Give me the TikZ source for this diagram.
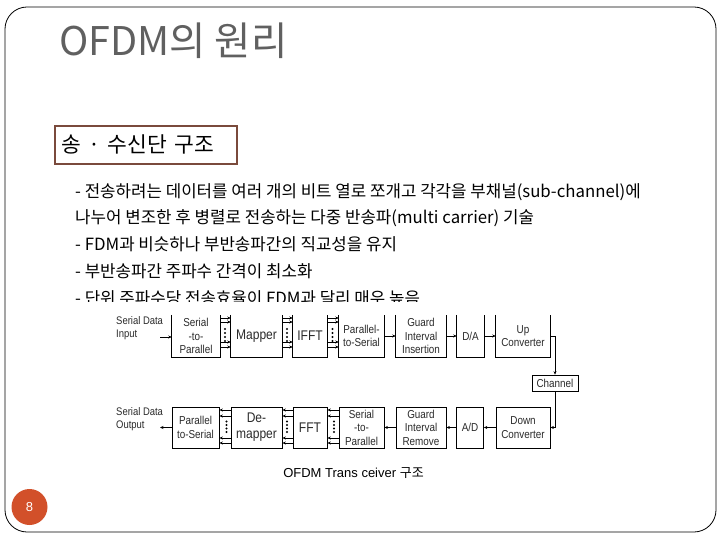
\documentclass[tikz,border=0pt]{standalone}
\usepackage{fontspec}
\setmainfont{Noto Sans CJK KR}
\newfontfamily\arialf[FakeStretch=0.86]{Liberation Sans}
\newfontfamily\capf{Liberation Sans}
\usetikzlibrary{arrows.meta,calc}
\definecolor{titlegray}{HTML}{606060}
\definecolor{secbrown}{HTML}{7A4A3C}
\definecolor{pgcol}{HTML}{D2502A}
\definecolor{boxtext}{HTML}{2A2A2A}
\tikzset{
  arr/.style={-{Stealth[length=3.5pt,width=3pt]}, line width=0.6pt},
  blk/.style={draw, line width=0.7pt, inner sep=0pt, align=center, text=boxtext,
              font=\arialf\fontsize{11.5}{13.5}\selectfont},
  blkopen/.style={inner sep=0pt, align=center, text=boxtext,
              font=\arialf\fontsize{11.5}{13.5}\selectfont},
  big/.style={font=\arialf\fontsize{14}{16}\selectfont},
  bullet/.style={anchor=base west, inner sep=0pt, font=\fontsize{16.8}{18}\selectfont},
  pdot/.style={fill=black},
}
\newcommand\openbox[1]{\draw[line width=0.7pt] (#1.north west) -- (#1.south west) -- (#1.south east) -- (#1.north east);}
\begin{document}
\begin{tikzpicture}[x=1pt,y=-1pt]
\useasboundingbox (0,0) rectangle (720,540);
% slide frame
\draw[rounded corners=22pt, line width=0.8pt] (5,7) rectangle (716,532);
% title
\node[anchor=base west, inner sep=0pt, text=titlegray, font=\fontsize{39.5}{41}\selectfont] (title) at (59,56) {OFDM의 원리};
% section box
\node[draw=secbrown, line width=1.6pt, anchor=north west, minimum width=182pt, minimum height=38pt,
      text width=168pt, inner xsep=7pt, align=left, font=\fontsize{21.5}{23}\selectfont] (sec) at (54,125) {송 · 수신단 구조};
% bullets
\node[bullet] (b1) at (75,197.5) {- 전송하려는 데이터를 여러 개의 비트 열로 쪼개고 각각을 부채널(sub-channel)에};
\node[bullet] (b2) at (75,224) {나누어 변조한 후 병렬로 전송하는 다중 반송파(multi carrier) 기술};
\node[bullet] (b3) at (75,250.7) {- FDM과 비슷하나 부반송파간의 직교성을 유지};
\node[bullet] (b4) at (75,277.4) {- 부반송파간 주파수 간격이 최소화};
\begin{scope}
\clip (0,0) rectangle (720,301);
\node[bullet] (b5) at (75,304) {- 단위 주파수당 전송효율이 FDM과 달리 매우 높음};
\end{scope}
% ---- top row (transmitter)
\node[blkopen, minimum width=48pt, minimum height=42pt] (sp1) at (196,336) {Serial\\-to-\\Parallel};
\node[blkopen, big, minimum width=51pt, minimum height=42pt] (map) at (256.5,336) {Mapper};
\node[blkopen, big, minimum width=34pt, minimum height=42pt] (ifft) at (310,336) {IFFT};
\node[blkopen, minimum width=45pt, minimum height=42pt] (ps1) at (361.5,336) {Parallel-\\to-Serial};
\node[blkopen, minimum width=50pt, minimum height=42pt] (gi) at (421,336) {Guard\\Interval\\Insertion};
\node[blkopen, minimum width=27pt, minimum height=42pt] (da) at (470.5,336) {D/A};
\node[blkopen, minimum width=54pt, minimum height=42pt] (up) at (523,336) {Up\\Converter};
\openbox{sp1}\openbox{map}\openbox{ifft}\openbox{ps1}\openbox{gi}\openbox{da}\openbox{up}
\node[anchor=north west, inner sep=0pt, align=left, text=boxtext, font=\arialf\fontsize{11}{13.5}\selectfont] (sdi) at (116,316) {Serial Data\\Input};
\coordinate (cin) at (160,337);
\draw[arr] (cin) -- (cin -| sp1.west);
\foreach \dy in {-18,-14,6,11} {
  \draw[arr] ($(sp1.east)+(0,\dy)$) -- ($(map.west)+(0,\dy)$);
  \draw[arr] ($(map.east)+(0,\dy)$) -- ($(ifft.west)+(0,\dy)$);
  \draw[arr] ($(ifft.east)+(0,\dy)$) -- ($(ps1.west)+(0,\dy)$);
}
\foreach \yy in {329,333,337,341} {
  \fill[pdot] (225,\yy) circle (1.1pt);
  \fill[pdot] (287,\yy) circle (1.1pt);
  \fill[pdot] (332.5,\yy) circle (1.1pt);
}
\draw[arr] (ps1) -- (gi);
\draw[arr] (gi) -- (da);
\draw[arr] (da) -- (up);
% channel
\node[blk, minimum width=46pt, minimum height=16pt] (ch) at (555,383) {Channel};
\draw[arr] (up.east) -| (ch.north);
% ---- bottom row (receiver)
\node[blk, minimum width=47pt, minimum height=41pt] (ps2) at (195.5,427.5) {Parallel\\to-Serial};
\node[blk, big, minimum width=51pt, minimum height=41pt] (dem) at (256.5,427.5) {De-\\mapper};
\node[blk, big, minimum width=34pt, minimum height=41pt] (fft) at (310,427.5) {FFT};
\node[blk, minimum width=45pt, minimum height=41pt] (sp2) at (361.5,427.5) {Serial\\-to-\\Parallel};
\node[blk, minimum width=50pt, minimum height=41pt] (gr) at (421,427.5) {Guard\\Interval\\Remove};
\node[blk, minimum width=27pt, minimum height=41pt] (ad) at (470,427.5) {A/D};
\node[blk, minimum width=54pt, minimum height=41pt] (down) at (523,427.5) {Down\\Converter};
\draw[arr] (ch.south) |- (down.east);
\draw[arr] (down) -- (ad);
\draw[arr] (ad) -- (gr);
\draw[arr] (gr) -- (sp2);
\foreach \dy in {-17.5,-11.5,10.5,15.5} {
  \draw[arr] ($(sp2.west)+(0,\dy)$) -- ($(fft.east)+(0,\dy)$);
  \draw[arr] ($(fft.west)+(0,\dy)$) -- ($(dem.east)+(0,\dy)$);
  \draw[arr] ($(dem.west)+(0,\dy)$) -- ($(ps2.east)+(0,\dy)$);
}
\foreach \yy in {421.5,425,428.5,432} {
  \fill[pdot] (226.5,\yy) circle (1.1pt);
  \fill[pdot] (287,\yy) circle (1.1pt);
  \fill[pdot] (334,\yy) circle (1.1pt);
}
\node[anchor=north west, inner sep=0pt, align=left, text=boxtext, font=\arialf\fontsize{11}{13.5}\selectfont] (sdo) at (116,407) {Serial Data\\Output};
\coordinate (cout) at (160,427.5);
\draw[arr] (ps2.west) -- (cout);
% caption
\node[font=\capf\fontsize{13}{15}\selectfont] (cap) at (353.5,473) {OFDM Trans ceiver {\rmfamily 구조}};
% page number
\node[circle, fill=pgcol, text=white, minimum size=36pt, inner sep=0pt, font=\capf\fontsize{13}{15}\selectfont] (pg) at (29.5,507) {8};
\end{tikzpicture}
\end{document}
